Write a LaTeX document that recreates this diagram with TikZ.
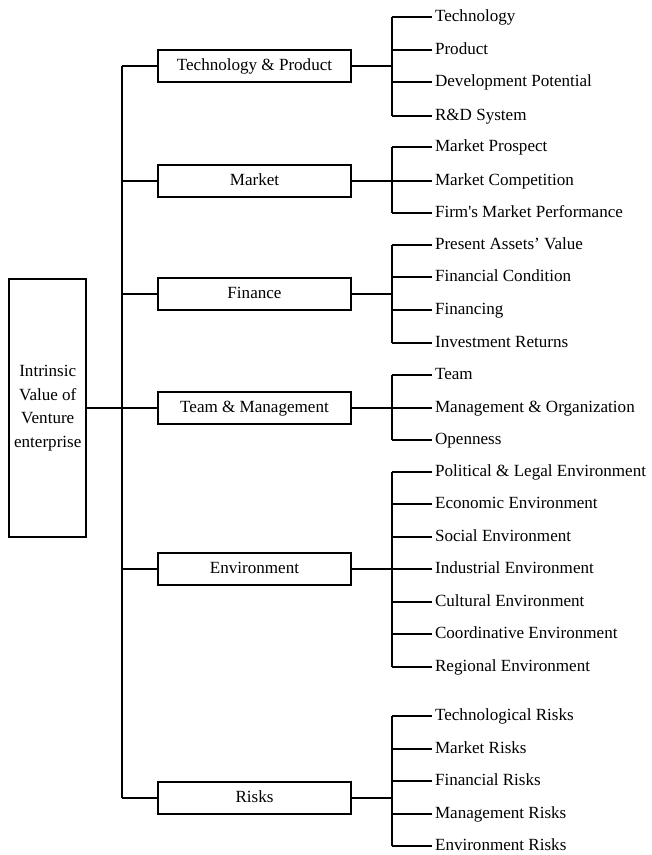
\documentclass[tikz,border=0pt]{standalone}
\usepackage{fontspec}
\setmainfont{Liberation Serif}
\newfontfamily\nomap{Liberation Serif}[Ligatures=TeXOff]
\begin{document}
\begin{tikzpicture}[x=0.75pt,y=-0.75pt,
  font=\fontsize{12.8}{17.6}\selectfont,
  line width=1.6pt,
  conn/.style={line width=1.6pt},
  catbox/.style={draw,line width=1.6pt,minimum width=144.75pt,minimum height=24pt,inner sep=0pt,text height=0.62em,text depth=0pt},
  leaf/.style={anchor=west,inner xsep=1.5pt,inner ysep=0pt,text height=0.62em,text depth=0pt},
  mainbox/.style={draw,line width=1.6pt,minimum width=57.5pt,minimum height=194pt,align=center,inner sep=0pt}]
\useasboundingbox (0,0) rectangle (651,855);

% main box
\node[mainbox] (main) at (47.75,408) {Intrinsic\\Value of\\Venture\\enterprise};

% categories
\node[catbox] (c1) at (254.5,66) {Technology \& Product};
\node[catbox] (c2) at (254.5,181) {Market};
\node[catbox] (c3) at (254.5,294) {Finance};
\node[catbox] (c4) at (254.5,408) {Team \& Management};
\node[catbox] (c5) at (254.5,569) {Environment};
\node[catbox] (c6) at (254.5,798) {Risks};

% trunk
\coordinate (t0) at (122,408);
\coordinate (ttop) at (122,66);
\coordinate (tbot) at (122,798);
\draw[conn] (ttop) -- (tbot);
\draw[conn] (main.east) -- (t0);
\draw[conn] (ttop) -- (c1.west);
\draw[conn] (tbot) -- (c6.west);
\foreach \i in {2,3,4,5} {
  \draw[conn] (c\i.west) -- (c\i.west -| ttop);
}

% leaves
\foreach \name/\y/\txt in {
  l1/17/Technology, l2/50/Product, l3/82/Development Potential, l4/116/R\&D System,
  l5/147/Market Prospect, l6/181/Market Competition, l7/213/Firm{\nomap '}s Market Performance,
  l8/245/Present Assets’ Value, l9/277/Financial Condition, l10/310/Financing, l11/343/Investment Returns,
  l12/375/Team, l13/408/Management \& Organization, l14/440/Openness,
  l15/472/Political \& Legal Environment, l16/504/Economic Environment, l17/537/Social Environment,
  l18/569/Industrial Environment, l19/602/Cultural Environment, l20/634/Coordinative Environment,
  l21/667/Regional Environment,
  l22/716/Technological Risks, l23/749/Market Risks, l24/781/Financial Risks,
  l25/814/Management Risks, l26/846/Environment Risks} {
  \coordinate (b\name) at (392,\y);
  \node[leaf] (\name) at (432,\y) {\txt};
  \draw[conn] (b\name) -- (\name.west);
}

% brackets
\draw[conn] (bl1) -- (bl4);
\draw[conn] (c1.east) -- (c1.east -| bl1);
\draw[conn] (bl5) -- (bl7);
\draw[conn] (c2.east) -- (c2.east -| bl5);
\draw[conn] (bl8) -- (bl11);
\draw[conn] (c3.east) -- (c3.east -| bl8);
\draw[conn] (bl12) -- (bl14);
\draw[conn] (c4.east) -- (c4.east -| bl12);
\draw[conn] (bl15) -- (bl21);
\draw[conn] (c5.east) -- (c5.east -| bl15);
\draw[conn] (bl22) -- (bl26);
\draw[conn] (c6.east) -- (c6.east -| bl22);
\end{tikzpicture}
\end{document}
